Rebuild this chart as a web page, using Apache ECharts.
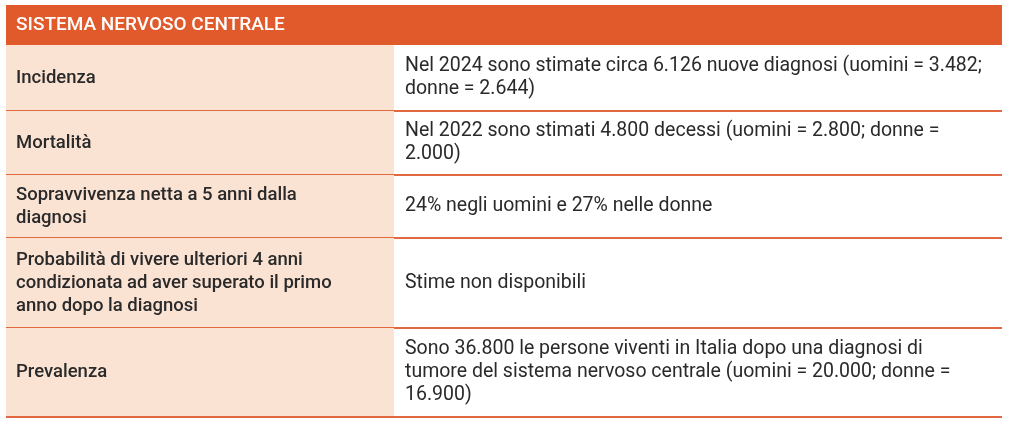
<!DOCTYPE html>
<html>
<head>
<meta charset="UTF-8">
<title>Sistema nervoso centrale</title>
<script src="https://cdn.jsdelivr.net/npm/echarts@6/dist/echarts.min.js"></script>
<style>body{margin:0;background:#fff}</style>
</head>
<body>
<div id="main" style="width:1024px;height:436px;"></div>
<script>
var title = 'SISTEMA NERVOSO CENTRALE';
var labels = [
  'Incidenza',
  'Mortalità',
  'Sopravvivenza netta a 5 anni dalla\ndiagnosi',
  'Probabilità di vivere ulteriori 4 anni\ncondizionata ad aver superato il primo\nanno dopo la diagnosi',
  'Prevalenza'
];
var values = [
  'Nel 2024 sono stimate circa 6.126 nuove diagnosi (uomini = 3.482;\ndonne = 2.644)',
  'Nel 2022 sono stimati 4.800 decessi (uomini = 2.800; donne =\n2.000)',
  '24% negli uomini e 27% nelle donne',
  'Stime non disponibili',
  'Sono 36.800 le persone viventi in Italia dopo una diagnosi di\ntumore del sistema nervoso centrale (uomini = 20.000; donne =\n16.900)'
];
var rowEdges = [45, 111, 175, 238, 328, 417];

var left = 6, right = 1002, split = 394;
var font = 'Roboto, "Noto Sans", sans-serif';
var els = [];
els.push({ type: 'rect', shape: { x: left, y: 5, width: right - left, height: 40 }, style: { fill: '#e05a2b' } });
els.push({ type: 'text', x: 16, y: 25, style: { text: title, fill: '#fff', font: '500 19px ' + font, textVerticalAlign: 'middle' } });
for (var i = 0; i < labels.length; i++) {
  var y0 = rowEdges[i], y1 = rowEdges[i + 1], mid = (y0 + y1) / 2;
  els.push({ type: 'rect', shape: { x: left, y: y0, width: split - left, height: y1 - y0 }, style: { fill: '#fbe3d4' } });
  els.push({ type: 'text', x: 16, y: mid, style: { text: labels[i], fill: '#2a2a2a', font: '500 18.5px ' + font, lineHeight: 23, textVerticalAlign: 'middle' } });
  els.push({ type: 'text', x: 405, y: mid, style: { text: values[i], fill: '#2a2a2a', font: '19.5px ' + font, lineHeight: 23, textVerticalAlign: 'middle' } });
  els.push({ type: 'line', shape: { x1: left, y1: y1, x2: right, y2: y1 }, style: { stroke: '#e0693f', lineWidth: 2 } });
}
var chart = echarts.init(document.getElementById('main'));
chart.setOption({ animation: false, graphic: { elements: els } });
</script>
</body>
</html>
